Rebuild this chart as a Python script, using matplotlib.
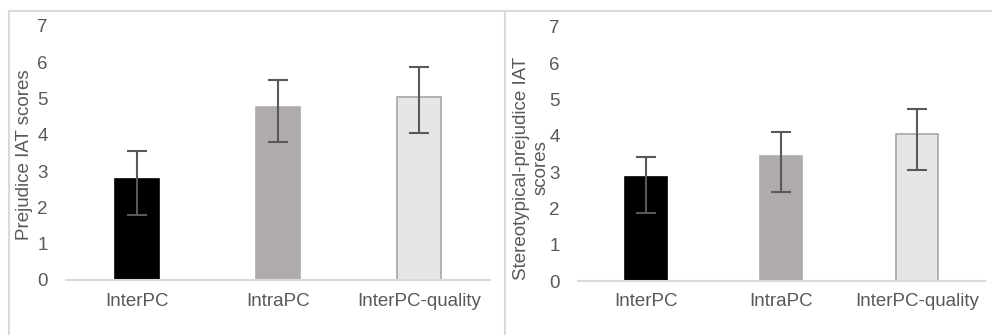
import matplotlib
matplotlib.use("Agg")
import matplotlib.pyplot as plt
from matplotlib.lines import Line2D
import numpy as np

plt.rcParams['font.family'] = ['Liberation Sans', 'DejaVu Sans']

categories = ["InterPC", "IntraPC", "InterPC-quality"]
prejudice_means = [2.78, 4.76, 5.03]
prejudice_err_low = [1.00, 0.97, 0.99]
prejudice_err_high = [0.77, 0.74, 0.83]
stereo_means = [2.85, 3.44, 4.04]
stereo_err_low = [0.97, 1.00, 0.98]
stereo_err_high = [0.57, 0.65, 0.70]
yticks = [0, 1, 2, 3, 4, 5, 6, 7]

W, H = 992, 335
fig = plt.figure(figsize=(W / 100, H / 100), dpi=100)

fills = ["#000000", "#AFABAB", "#E7E6E6"]
edges = ["#000000", "#AFABAB", "#A6A6A6"]
tick_col = "#595959"
grid_col = "#D9D9D9"


def panel(rect, means, lo, hi):
    ax = fig.add_axes(rect)
    x = np.arange(len(categories))
    ax.bar(x, means, width=0.31, color=fills, edgecolor=edges, linewidth=1.2, zorder=2)
    ax.errorbar(x, means, yerr=[lo, hi], fmt='none', ecolor="#595959",
                elinewidth=1.5, capsize=7, capthick=1.5, zorder=3)
    ax.set_xlim(-0.5, 2.5)
    ax.set_ylim(0, 7)
    ax.set_yticks(yticks)
    ax.set_xticks(x)
    ax.set_xticklabels(categories)
    for s in ["top", "right", "left"]:
        ax.spines[s].set_visible(False)
    ax.spines["bottom"].set_color(grid_col)
    ax.spines["bottom"].set_linewidth(1.5)
    ax.tick_params(axis='both', length=0, labelsize=13.5, colors=tick_col)
    ax.tick_params(axis='y', pad=13)
    ax.tick_params(axis='x', pad=9)
    ax.patch.set_alpha(0)
    return ax


ax1 = panel([66 / W, 1 - 280 / H, 424 / W, 254 / H],
            prejudice_means, prejudice_err_low, prejudice_err_high)
ax2 = panel([577.7 / W, 1 - 281 / H, 407.3 / W, 254.3 / H],
            stereo_means, stereo_err_low, stereo_err_high)

fig.text(25 / W, 1 - 154.5 / H, "Prejudice IAT scores", rotation=90,
         ha='center', va='center', fontsize=13.5, color=tick_col)
fig.text(522 / W, 1 - 168 / H, "Stereotypical-prejudice IAT", rotation=90,
         ha='center', va='center', fontsize=13.5, color=tick_col)
fig.text(541.5 / W, 1 - 168 / H, "scores", rotation=90,
         ha='center', va='center', fontsize=13.5, color=tick_col)

# panel borders
fig.add_artist(Line2D([9 / W, 1], [1 - 11 / H, 1 - 11 / H], transform=fig.transFigure,
                      color=grid_col, lw=1.5))
fig.add_artist(Line2D([9 / W, 9 / W], [0, 1 - 11 / H], transform=fig.transFigure,
                      color=grid_col, lw=1.5))
fig.add_artist(Line2D([505 / W, 505 / W], [0, 1 - 11 / H], transform=fig.transFigure,
                      color=grid_col, lw=1.5))

fig.savefig("out.png", dpi=100)
